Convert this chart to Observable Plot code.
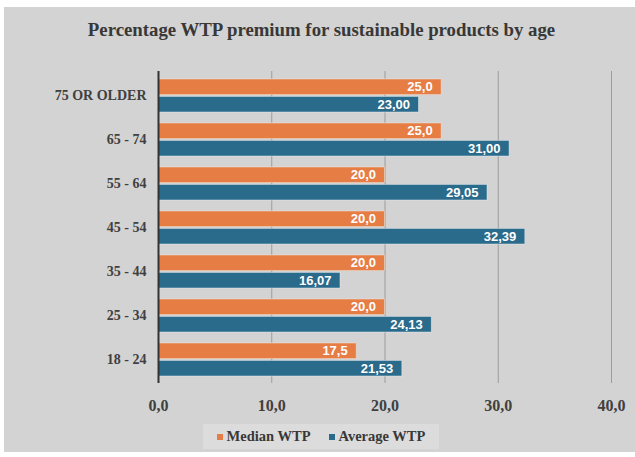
<!DOCTYPE html>
<html>
<head>
<meta charset="utf-8">
<script src="https://cdn.jsdelivr.net/npm/d3@7"></script>
<script src="https://cdn.jsdelivr.net/npm/@observablehq/plot@0.6"></script>
<style>
  html, body { margin: 0; padding: 0; background: #ffffff; }
  #page { position: relative; width: 635px; height: 457px; overflow: hidden; }
  #panel { position: absolute; left: 4px; top: 7px; width: 631px; height: 445px; background: #d3d3d3; }
  #title {
    position: absolute; left: 4px; top: 19px; width: 635px; text-align: center;
    font-family: "Liberation Serif", "Times New Roman", serif; font-weight: bold;
    font-size: 18.8px; color: #383838; white-space: nowrap;
  }
  #chart { position: absolute; left: 0; top: 50px; }
  #chart [aria-label^="x-axis"] text { font-size: 16px; }
  #chart [aria-label^="y-axis"] text { font-size: 14px; }
  #legend {
    position: absolute; left: 203px; top: 424px; width: 236px; height: 25px;
    background: #dcdcdc; display: flex; align-items: center; justify-content: center; gap: 18px;
    font-family: "Liberation Serif", "Times New Roman", serif; font-weight: bold;
    font-size: 14.5px; color: #383838;
  }
  #legend .item { display: flex; align-items: center; gap: 4px; }
  #legend .swatch { width: 6px; height: 6px; display: inline-block; }
</style>
</head>
<body>
<div id="page">
  <div id="panel"></div>
  <div id="title">Percentage WTP premium for sustainable products by age</div>
  <div id="chart"></div>
  <div id="legend"></div>
</div>
<script>
// Age groups, top to bottom
const ages = ["75 OR OLDER", "65 - 74", "55 - 64", "45 - 54", "35 - 44", "25 - 34", "18 - 24"];
// Willingness-to-pay premium (%)
const medianWTP = [25.0, 25.0, 20.0, 20.0, 20.0, 20.0, 17.5];
const averageWTP = [23.00, 31.00, 29.05, 32.39, 16.07, 24.13, 21.53];
const series = ["Median WTP", "Average WTP"];
const seriesColors = ["#e67d45", "#2a6a8a"];
const xTicks = [0, 10, 20, 30, 40];

const comma = (v, digits) => v.toFixed(digits).replace(".", ",");

const median = ages.map((age, i) => ({age, series: series[0], value: medianWTP[i]}));
const average = ages.map((age, i) => ({age, series: series[1], value: averageWTP[i]}));

const barHalf = 17.4; // half of a group band: each series takes one half
const labelFont = {fontFamily: "'Liberation Sans', Arial, sans-serif", fontWeight: "bold", fontSize: 13, fill: "white"};

const chart = Plot.plot({
  width: 635,
  height: 370,
  marginLeft: 158,
  marginRight: 24,
  marginTop: 21,
  marginBottom: 37,
  style: {
    background: "transparent",
    fontFamily: "'Liberation Serif', 'Times New Roman', serif",
    fontWeight: "bold",
    color: "#404040"
  },
  x: {domain: [0, 40], ticks: xTicks, tickFormat: d => comma(d, 1), tickSize: 0, tickPadding: 16, label: null},
  y: {domain: ages, paddingInner: 0.26, paddingOuter: 0.13, tickSize: 0, tickPadding: 12, label: null},
  color: {domain: series, range: seriesColors},
  marks: [
    Plot.ruleX(xTicks.slice(1), {stroke: "#9c9c9c", strokeWidth: 1}),
    Plot.barX(median, {x: "value", y: "age", fill: "series", insetBottom: barHalf, stroke: "#f4e6dc", strokeWidth: 0.8, strokeOpacity: 0.6}),
    Plot.barX(average, {x: "value", y: "age", fill: "series", insetTop: barHalf, stroke: "#e4eef4", strokeWidth: 0.8, strokeOpacity: 0.6}),
    Plot.text(median, {x: "value", y: "age", text: d => comma(d.value, 1), textAnchor: "end", dx: -9, dy: -8.7, ...labelFont}),
    Plot.text(average, {x: "value", y: "age", text: d => comma(d.value, 2), textAnchor: "end", dx: -9, dy: 8.7, ...labelFont}),
    Plot.ruleX([0], {stroke: "#333333", strokeWidth: 2})
  ]
});
document.getElementById("chart").append(chart);

// Legend built from the same series and colours
const legend = d3.select("#legend");
series.forEach((name, i) => {
  const item = legend.append("div").attr("class", "item");
  item.append("span").attr("class", "swatch").style("background", seriesColors[i]);
  item.append("span").text(name);
});
</script>
</body>
</html>
